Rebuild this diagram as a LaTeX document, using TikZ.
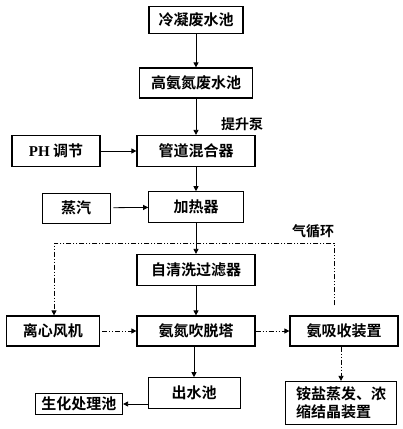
\documentclass[tikz,border=0pt]{standalone}
\usepackage{fontspec}
\setmainfont{Noto Sans CJK SC}[BoldFont={* Bold}]
\newfontfamily\latinf{Liberation Serif}
\usetikzlibrary{arrows.meta}
\tikzset{
    BX1/.style ={rectangle,draw,line width=1.2pt,inner sep=0pt,font=\bfseries\fontsize{15}{18}\selectfont},
    BX2/.style ={rectangle,draw,line width=0.6pt,inner sep=0pt,font=\bfseries\fontsize{15}{18}\selectfont},
    AR/.style ={-{Triangle[length=5pt,width=5pt]},line width=0.8pt},
    DA/.style ={AR,dash pattern=on 5pt off 2pt on 1pt off 2pt on 1pt off 2pt},
    LB/.style ={font=\bfseries\fontsize{14}{16}\selectfont,inner sep=0pt}}
\begin{document}
\begin{tikzpicture}[x=1pt,y=-1pt]
        \useasboundingbox (0,0) rectangle (403,429);
        \node[BX1,minimum width=94pt,minimum height=27pt] (1) at(196,20){冷凝废水池};
        \node[BX1,minimum width=113pt,minimum height=30pt] (2) at(196,83){高氨氮废水池};
        \node[BX1,minimum width=118pt,minimum height=31pt] (3) at(196,151){管道混合器};
        \node[BX1,minimum width=88pt,minimum height=31pt] (4) at(56,151){{\latinf\bfseries PH} 调节};
        \node[BX2,minimum width=68pt,minimum height=30pt] (5) at(76,208){蒸汽};
        \node[BX2,minimum width=95pt,minimum height=31pt] (6) at(196,207){加热器};
        \node[BX1,minimum width=118pt,minimum height=31pt] (7) at(196,270){自清洗过滤器};
        \node[BX1,minimum width=93pt,minimum height=30pt] (8) at(53,331){离心风机};
        \node[BX1,minimum width=118pt,minimum height=30pt] (9) at(196,331){氨氮吹脱塔};
        \node[BX1,minimum width=108pt,minimum height=30pt] (10) at(344,331){氨吸收装置};
        \node[BX2,minimum width=92pt,minimum height=31pt] (11) at(194,393){出水池};
        \node[BX1,minimum width=87pt,minimum height=21pt] (12) at(79,404){生化处理池};
        \node[BX1,minimum width=111pt,minimum height=43pt,align=left] (13) at(341,403){铵盐蒸发、浓\\缩结晶装置};
        \node[LB] (14) at(242,124){提升泵};
        \node[LB] (15) at(313,231){气循环};
        \coordinate (16) at(54,243);
        \coordinate (17) at(334,243);
        \draw[AR] (1) --(2);
        \draw[AR] (2) --(3);
        \draw[AR] (4) --(3);
        \draw[AR] (3) --(6);
        \draw[AR,shorten <=3pt] (5) --(6);
        \draw[AR] (6) --(7);
        \draw[AR] (7) --(9);
        \draw[AR] (9.south -| 11) --(11);
        \draw[AR] (11.west |- 12) --(12);
        \draw[DA,shorten <=2pt] (8) --(9);
        \draw[DA] (9) --(10);
        \draw[DA] (10.south -| 13) --(13);
        \draw[DA,shorten <=10pt] (10.north -| 17) --(17) --(16) --(8.north -| 16);
    \end{tikzpicture}
\end{document}
